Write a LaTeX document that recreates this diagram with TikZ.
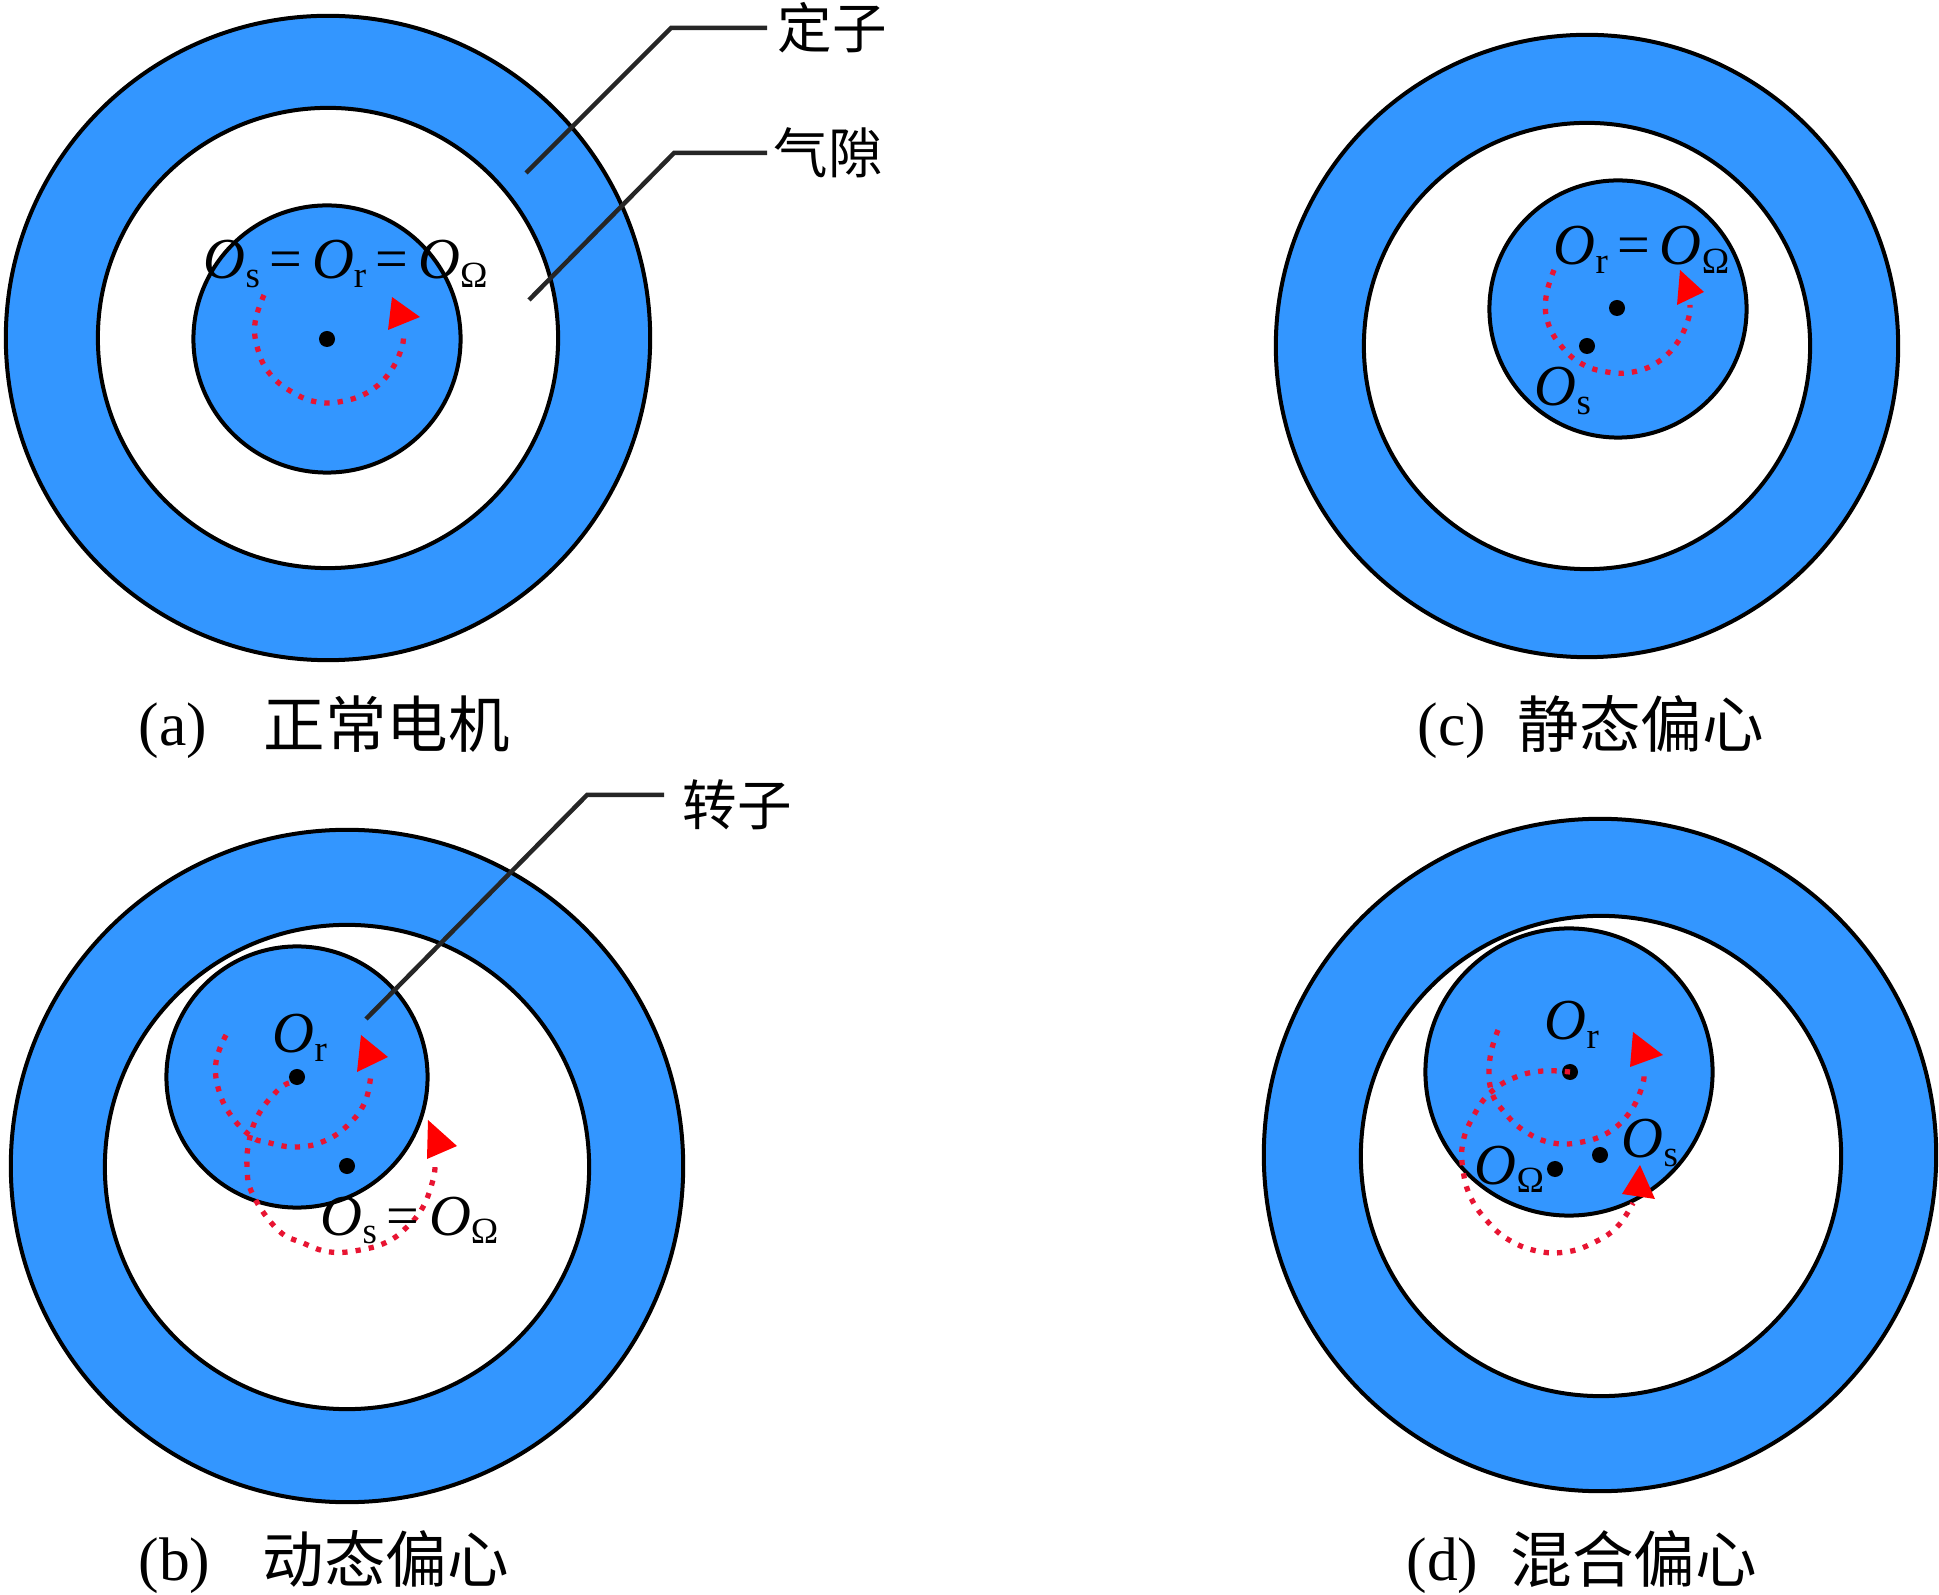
\documentclass[tikz,border=0pt]{standalone}
\usepackage{fontspec}
\setmainfont{Liberation Serif}
\newfontfamily\cjk{Noto Sans CJK SC}
\usepackage{tikz}
\definecolor{motorblue}{RGB}{51,150,255}
\definecolor{spinred}{RGB}{232,20,50}
\newcommand{\Oc}[1]{\textit{O}\raisebox{-0.32ex}{\fontsize{10.5}{12}\selectfont #1}}
\tikzset{
  part/.style={circle, draw=black, line width=0.04cm, inner sep=0pt, outer sep=0pt},
  blue part/.style={part, fill=motorblue},
  gap part/.style={part, fill=white},
  pivot/.style={circle, fill=black, inner sep=0pt, minimum size=0.16cm},
  spin/.style={spinred, line width=1.5pt, dash pattern=on 1.5pt off 2.3pt},
  spintip/.style={fill=red},
  leader/.style={draw=black!85, line width=0.045cm},
  sym/.style={anchor=base west, inner sep=0pt, font=\fontsize{16.5}{18}\selectfont},
  figlabel/.style={anchor=base west, inner sep=0pt, font=\fontsize{17.5}{20}\selectfont},
  hanzi/.style={anchor=base west, inner sep=0pt, font=\cjk\fontsize{17.5}{20}\selectfont},
  tag/.style={anchor=west, inner sep=0.1cm, font=\cjk\fontsize{15.5}{18}\selectfont}
}
\begin{document}
\begin{tikzpicture}[x=0.01cm,y=-0.01cm]
\useasboundingbox (0,0) rectangle (1939,1595);

\node[blue part, minimum size=6.44cm] (a1) at (328,338) {};
\node[gap part, minimum size=4.60cm] (a2) at (328,338) {};
\node[blue part, minimum size=2.67cm] (a3) at (327,339) {};
\node[pivot] (a4) at (327,339) {};

\node[blue part, minimum size=6.72cm] (b1) at (347,1166) {};
\node[gap part, minimum size=4.84cm] (b2) at (347,1167) {};
\node[blue part, minimum size=2.61cm] (b3) at (297,1077) {};
\node[pivot] (b4) at (297,1077) {};
\node[pivot] (b5) at (347,1166) {};

\node[blue part, minimum size=6.22cm] (c1) at (1587,346) {};
\node[gap part, minimum size=4.46cm] (c2) at (1587,346) {};
\node[blue part, minimum size=2.57cm] (c3) at (1618,309) {};
\node[pivot] (c4) at (1617,308) {};
\node[pivot] (c5) at (1587,346) {};

\node[blue part, minimum size=6.72cm] (d1) at (1600,1155) {};
\node[gap part, minimum size=4.80cm] (d2) at (1601,1156) {};
\node[blue part, minimum size=2.87cm] (d3) at (1569,1072) {};
\node[pivot] (d4) at (1570,1072) {};
\node[pivot] (d5) at (1600,1155) {};
\node[pivot] (d6) at (1555,1169) {};

\draw[spin] plot[smooth, tension=.7] coordinates {(264,295) (255,323) (258,350) (270,374) (292,392) (317,402) (344,401) (370,391) (390,372) (402,347) (403,332)};
\fill[spintip] (392,297) -- (420,317) -- (388,330) -- cycle;

\draw[spin] plot[smooth, tension=.7] coordinates {(226,1035) (216,1062) (219,1091) (232,1117) (252,1137) (266,1142) (294,1147) (322,1142) (347,1126) (365,1102) (371,1073)};
\fill[spintip] (361,1035) -- (388,1057) -- (357,1072) -- cycle;
\draw[spin] plot[smooth, tension=.7] coordinates {(289,1083) (278,1090) (260,1112) (250,1137) (247,1167) (253,1195) (278,1230) (303,1243) (330,1252) (360,1250) (387,1242) (407,1227) (423,1207) (433,1180) (435,1165)};
\fill[spintip] (428,1120) -- (457,1146) -- (427,1159) -- cycle;

\draw[spin] plot[smooth, tension=.7] coordinates {(1554,270) (1546,297) (1548,323) (1562,347) (1582,364) (1607,372) (1633,372) (1658,362) (1677,343) (1688,320) (1690,305)};
\fill[spintip] (1680,270) -- (1704,292) -- (1677,305) -- cycle;

\draw[spin] plot[smooth, tension=.7] coordinates {(1498,1030) (1490,1058) (1491,1090) (1505,1113) (1526,1132) (1553,1143) (1582,1142) (1609,1132) (1630,1112) (1642,1087) (1644,1072)};
\fill[spintip] (1633,1032) -- (1663,1055) -- (1630,1067) -- cycle;
\draw[spin] plot[smooth, tension=.7] coordinates {(1570,1072) (1543,1071) (1516,1077) (1491,1092) (1474,1115) (1463,1142) (1463,1170) (1471,1198) (1488,1222) (1509,1240) (1537,1251) (1566,1252) (1593,1243) (1617,1227) (1633,1203)};
\fill[spintip] (1640,1165) -- (1655,1199) -- (1622,1194) -- cycle;

\node[sym] (a5) at (203,279) {\Oc{s}\,=\,\Oc{r}\,=\,\Oc{Ω}};
\node[sym] (b6) at (272,1053) {\Oc{r}};
\node[sym] (b7) at (320,1235) {\Oc{s}\,=\,\Oc{Ω}};
\node[sym] (c6) at (1553,265) {\Oc{r}\,=\,\Oc{Ω}};
\node[sym] (c7) at (1534,406) {\Oc{s}};
\node[sym] (d7) at (1544,1040) {\Oc{r}};
\node[sym] (d8) at (1474,1184) {\Oc{Ω}};
\node[sym] (d9) at (1621,1158) {\Oc{s}};

\node[tag] (stator) at (767,28) {定子};
\node[tag] (airgap) at (763,153) {气隙};
\node[tag] (rotor) at (672,805) {转子};
\coordinate (s0) at (526,173);
\coordinate (s1) at (671,28);
\coordinate (g0) at (529,300);
\coordinate (g1) at (674,153);
\coordinate (r0) at (366,1019);
\coordinate (r1) at (587,795);
\draw[leader] (s0) -- (s1) -- (767,28);
\draw[leader] (g0) -- (g1) -- (767,153);
\draw[leader] (r0) -- (r1) -- (664,795);

\node[figlabel] (cap1) at (138,746) {(a)};
\node[hanzi] (cap2) at (263,748) {正常电机};
\node[figlabel] (cap3) at (1417,746) {(c)};
\node[hanzi] (cap4) at (1517,748) {静态偏心};
\node[figlabel] (cap5) at (138,1580) {(b)};
\node[hanzi] (cap6) at (262,1582) {动态偏心};
\node[figlabel] (cap7) at (1406,1580) {(d)};
\node[hanzi] (cap8) at (1510,1582) {混合偏心};
\end{tikzpicture}
\end{document}
